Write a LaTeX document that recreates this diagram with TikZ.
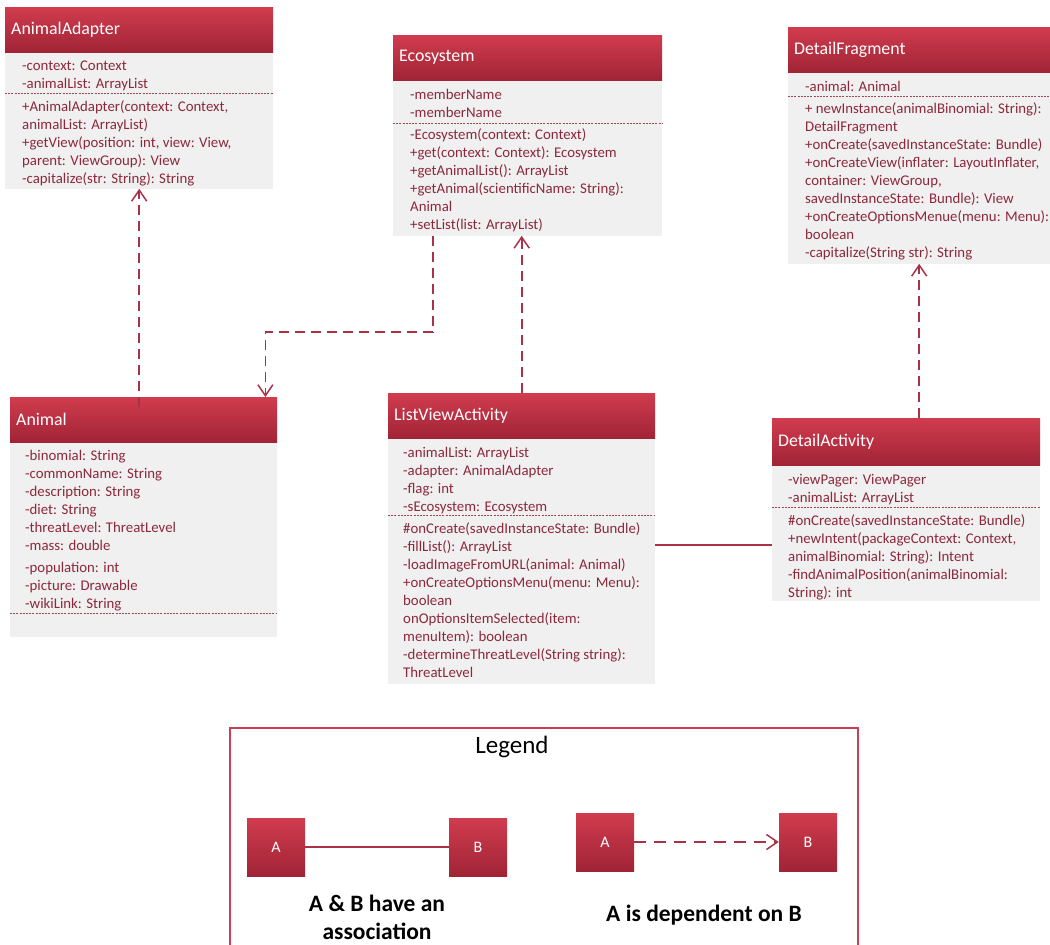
\documentclass[tikz,border=0pt]{standalone}
\usepackage{fontspec}
\setmainfont{Carlito}
\usetikzlibrary{arrows.meta}
\definecolor{hdtop}{RGB}{208,60,78}
\definecolor{hdbot}{RGB}{160,36,54}
\definecolor{bodyfill}{RGB}{240,240,240}
\definecolor{txt}{RGB}{140,40,60}
\definecolor{link}{RGB}{170,50,72}
\definecolor{frame}{RGB}{200,62,82}
\tikzset{
  hdr/.style={anchor=north west, inner xsep=6pt, inner ysep=0pt, align=left,
    minimum height=45pt, top color=hdtop, bottom color=hdbot, draw=none,
    text=white, font=\fontsize{17.8}{20}\selectfont},
  bodybox/.style={anchor=north west, fill=bodyfill, inner sep=0pt},
  members/.style={anchor=north west, inner sep=0pt, align=left, text=txt,
    font=\fontsize{14.8}{18}\selectfont},
  sepline/.style={dash pattern=on 2pt off 1.2pt, color=txt!85, line width=0.7pt},
  dep/.style={dash pattern=on 10pt off 6pt, line width=1.7pt, color=link,
    -{Straight Barb[length=11pt,width=15pt,line width=1.5pt]}},
  assoc/.style={line width=1.6pt, color=link},
  lbox/.style={minimum width=58pt, minimum height=58pt, inner sep=0pt,
    top color=hdtop, bottom color=hdbot, text=white, font=\fontsize{16}{18}\selectfont},
  ltext/.style={align=center, font=\bfseries\fontsize{23.5}{28}\selectfont},
}
\begin{document}
\begin{tikzpicture}[x=1pt,y=-1pt]
\fill[white] (0,0) rectangle (1050,945);
\useasboundingbox (0,0) rectangle (1050,945);

% ---------- AnimalAdapter ----------
\node[hdr, text width=256pt] (aaH) at (5,7) {AnimalAdapter};
\node[bodybox, minimum width=268pt, minimum height=136pt] (aaB) at (aaH.south west) {};
\node[members] (aaA) at (22,61) {-context: Context\\-animalList: ArrayList};
\draw[sepline] (aaB.west |- 0,93) -- (aaB.east |- 0,93);
\node[members] (aaM) at (22,100) {+AnimalAdapter(context: Context,\\animalList: ArrayList)\\+getView(position: int, view: View,\\parent: ViewGroup): View\\-capitalize(str: String): String};

% ---------- Ecosystem ----------
\node[hdr, text width=257pt] (ecoH) at (393,35) {Ecosystem};
\node[bodybox, minimum width=269pt, minimum height=155pt] (ecoB) at (ecoH.south west) {};
\node[members] (ecoA) at (410,89) {-memberName\\-memberName};
\draw[sepline] (ecoB.west |- 0,123) -- (ecoB.east |- 0,123);
\node[members] (ecoM) at (410,128) {-Ecosystem(context: Context)\\+get(context: Context): Ecosystem\\+getAnimalList(): ArrayList\\+getAnimal(scientificName: String):\\Animal\\+setList(list: ArrayList)};

% ---------- DetailFragment ----------
\node[hdr, text width=250pt] (dfH) at (788,27) {DetailFragment};
\node[bodybox, minimum width=262pt, minimum height=191pt] (dfB) at (dfH.south west) {};
\node[members] (dfA) at (805,81) {-animal: Animal};
\draw[sepline] (dfB.west |- 0,96) -- (dfB.east |- 0,96);
\node[members] (dfM) at (805,102) {+ newInstance(animalBinomial: String):\\DetailFragment\\+onCreate(savedInstanceState: Bundle)\\+onCreateView(inflater: LayoutInflater,\\container: ViewGroup,\\savedInstanceState: Bundle): View\\+onCreateOptionsMenue(menu: Menu):\\boolean\\-capitalize(String str): String};

% ---------- Animal ----------
\node[hdr, text width=255pt] (anH) at (10,397) {Animal};
\node[bodybox, minimum width=267pt, minimum height=194pt] (anB) at (anH.south west) {};
\node[members] (anA) at (25,450) {-binomial: String\\-commonName: String\\-description: String\\-diet: String\\-threatLevel: ThreatLevel\\-mass: double\\[4pt]-population: int\\-picture: Drawable\\-wikiLink: String};
\draw[sepline] (anB.west |- 0,613) -- (anB.east |- 0,613);

% ---------- ListViewActivity ----------
\node[hdr, text width=255pt] (lvH) at (388,393) {ListViewActivity};
\node[bodybox, minimum width=267pt, minimum height=245pt] (lvB) at (lvH.south west) {};
\node[members] (lvA) at (403,447) {-animalList: ArrayList\\-adapter: AnimalAdapter\\-flag: int\\-sEcosystem: Ecosystem};
\draw[sepline] (lvB.west |- 0,515) -- (lvB.east |- 0,515);
\node[members] (lvM) at (403,522) {\#onCreate(savedInstanceState: Bundle)\\-fillList(): ArrayList\\-loadImageFromURL(animal: Animal)\\+onCreateOptionsMenu(menu: Menu):\\boolean\\onOptionsItemSelected(item:\\menuItem): boolean\\-determineThreatLevel(String string):\\ThreatLevel};

% ---------- DetailActivity ----------
\node[hdr, text width=256pt, minimum height=47pt] (daH) at (772,418) {DetailActivity};
\node[bodybox, minimum width=268pt, minimum height=135pt] (daB) at (daH.south west) {};
\node[members] (daA) at (788,474) {-viewPager: ViewPager\\-animalList: ArrayList};
\draw[sepline] (daB.west |- 0,507) -- (daB.east |- 0,507);
\node[members] (daM) at (788,514) {\#onCreate(savedInstanceState: Bundle)\\+newIntent(packageContext: Context,\\animalBinomial: String): Intent\\-findAnimalPosition(animalBinomial:\\String): int};

% ---------- relations ----------
\draw[dep] ([yshift=-10pt]anH.north -| aaB.south) -- (aaB.south);
\coordinate (ecoBend) at (433,332);
\draw[dep] (ecoB.south -| ecoBend) -- (ecoBend) -| ([xshift=-12pt]anH.north east);
\draw[dep] (lvH.north) -- (lvH.north |- ecoB.south);
\draw[dep] (daH.north -| dfB.south) -- (dfB.south);
\draw[assoc] (lvB.east |- 0,545) -- (daB.west |- 0,545);

% ---------- legend ----------
\node[draw=frame, line width=2pt, anchor=north west, minimum width=628pt,
      minimum height=222pt, inner sep=0pt] (legend) at (229,727) {};
\node[font=\fontsize{25}{28}\selectfont] (legendT) at (512,747) {Legend};
\node[lbox] (la1) at (276,847) {A};
\node[lbox] (lb1) at (478,847) {B};
\draw[assoc] (la1) -- (lb1);
\node[lbox] (la2) at (605,842) {A};
\node[lbox] (lb2) at (808,842) {B};
\draw[dep, dash pattern=on 12pt off 8pt] (la2) -- (lb2);
\node[ltext] (lt1) at (377,917) {A \& B have an\\association};
\node[ltext] (lt2) at (704,915) {A is dependent on B};
\end{tikzpicture}
\end{document}
